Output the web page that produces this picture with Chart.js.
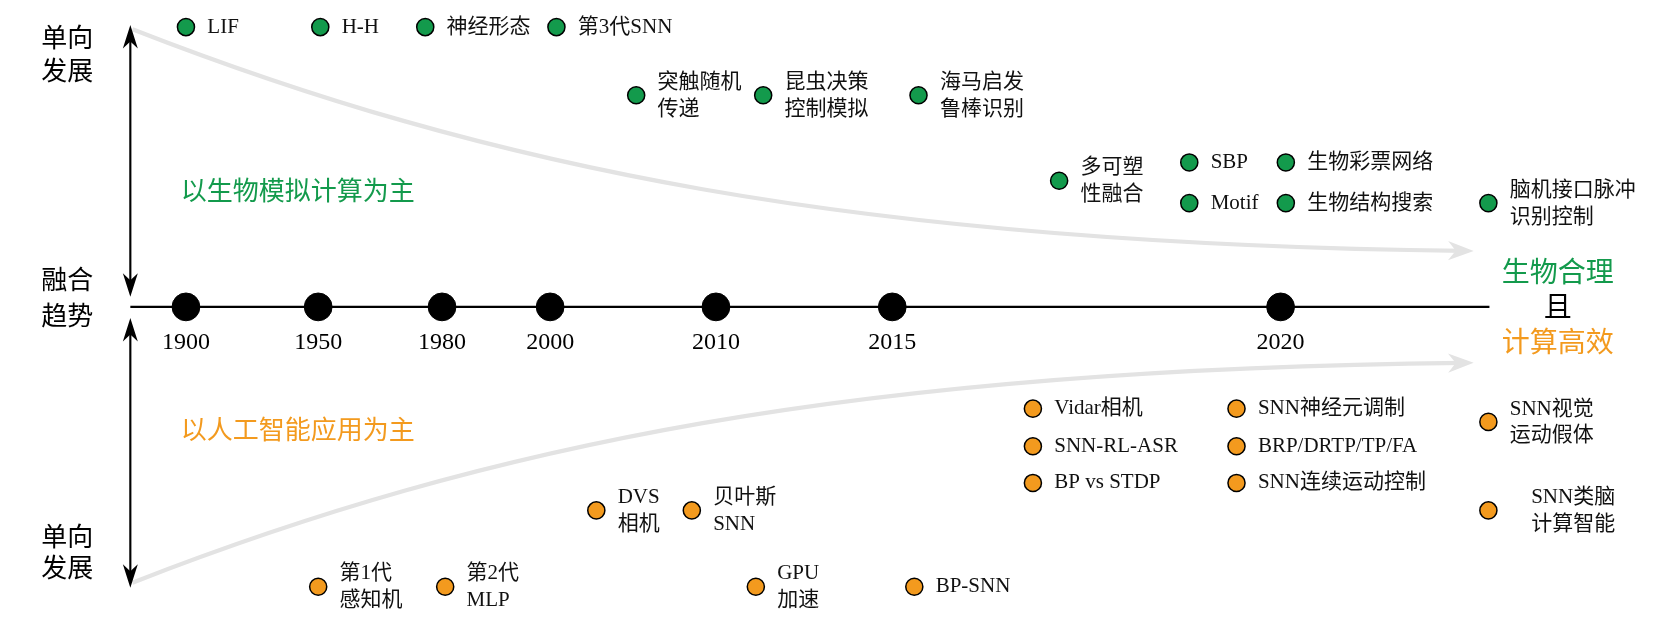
<!DOCTYPE html>
<html>
<head>
<meta charset="utf-8">
<script src="https://cdn.jsdelivr.net/npm/chart.js@4"></script>
<style>
  body { margin: 0; background: #fff; }
  #wrap { width: 1667px; height: 625px; }
</style>
</head>
<body>
<div id="wrap"><canvas id="tl"></canvas></div>
<script>
// years on the timeline and their positions along the axis
const years = ['1900', '1950', '1980', '2000', '2010', '2015', '2020'];
const yearPos = [163, 289, 407, 510, 668, 836, 1206];
const axisY = 287;

// bio-inspired (green) milestones
const bioNames = ['LIF', 'H-H', '神经形态', '第3代SNN', '突触随机\n传递', '昆虫决策\n控制模拟', '海马启发\n鲁棒识别',
  '多可塑\n性融合', 'SBP', '生物彩票网络', 'Motif', '生物结构搜索', '脑机接口脉冲\n识别控制'];
const bioX = [163, 291, 391, 516, 592, 713, 861, 995, 1119, 1211, 1119, 1211, 1404];
const bioY = [12, 12, 12, 12, 79, 79, 79, 163, 145, 145, 185, 185, 185];

// AI application (orange) milestones
const aiNames = ['Vidar相机', 'SNN神经元调制', 'SNN视觉\n运动假体', 'SNN-RL-ASR', 'BRP/DRTP/TP/FA', 'BP vs STDP',
  'SNN连续运动控制', 'SNN类脑\n计算智能', 'DVS\n相机', '贝叶斯\nSNN', '第1代\n感知机', '第2代\nMLP', 'GPU\n加速', 'BP-SNN'];
const aiX = [970, 1164, 1404, 970, 1164, 970, 1164, 1404, 554, 645, 289, 410, 706, 857];
const aiY = [387, 387, 400, 424, 424, 460, 460, 487, 487, 487, 562, 562, 562, 562];

const GREEN = '#139a4c', ORANGE = '#f39a1e';
const FONT = '"Liberation Serif", "Noto Sans CJK SC", serif';
const S = 1667 / 1560;
const px = n => Math.round(n * S) + 'px ';

const pts = (xs, ys) => xs.map((x, i) => ({ x: x, y: ys[i] }));

function arrowHead(ctx, x, y, ang, len, w, color) {
  ctx.save();
  ctx.translate(x, y); ctx.rotate(ang); ctx.scale(S, S);
  ctx.fillStyle = color;
  ctx.beginPath();
  ctx.moveTo(0, 0); ctx.lineTo(-len, -w); ctx.lineTo(-len * 0.7, 0); ctx.lineTo(-len, w);
  ctx.closePath(); ctx.fill();
  ctx.restore();
}

const decor = {
  id: 'decor',
  beforeDatasetsDraw(chart) {
    const ctx = chart.ctx, sx = chart.scales.x, sy = chart.scales.y;
    const X = v => sx.getPixelForValue(v), Y = v => sy.getPixelForValue(v);
    ctx.save();
    // gray convergence curves
    ctx.strokeStyle = '#e3e3e3'; ctx.lineWidth = 4 * S;
    ctx.beginPath(); ctx.moveTo(X(112), Y(14));
    ctx.bezierCurveTo(X(450), Y(150), X(800), Y(225), X(1380), Y(232)); ctx.stroke();
    arrowHead(ctx, X(1390), Y(232), 0.01, 24, 9, '#e3e3e3');
    ctx.beginPath(); ctx.moveTo(X(112), Y(558));
    ctx.bezierCurveTo(X(450), Y(422), X(800), Y(348), X(1380), Y(342)); ctx.stroke();
    arrowHead(ctx, X(1390), Y(342), -0.01, 24, 9, '#e3e3e3');
    // main timeline
    ctx.strokeStyle = '#000'; ctx.lineWidth = 2 * S;
    ctx.beginPath(); ctx.moveTo(X(110), Y(axisY)); ctx.lineTo(X(1405), Y(axisY)); ctx.stroke();
    // vertical double arrows
    ctx.beginPath(); ctx.moveTo(X(110), Y(20)); ctx.lineTo(X(110), Y(268));
    ctx.moveTo(X(110), Y(307)); ctx.lineTo(X(110), Y(553)); ctx.stroke();
    arrowHead(ctx, X(110), Y(10), -Math.PI / 2, 22, 7, '#000');
    arrowHead(ctx, X(110), Y(277), Math.PI / 2, 22, 7, '#000');
    arrowHead(ctx, X(110), Y(298), -Math.PI / 2, 22, 7, '#000');
    arrowHead(ctx, X(110), Y(563), Math.PI / 2, 22, 7, '#000');
    // texts
    ctx.textBaseline = 'middle'; ctx.textAlign = 'left';
    ctx.font = px(24) + FONT; ctx.fillStyle = '#000';
    [['单向', 25], ['发展', 57], ['融合', 263], ['趋势', 298], ['单向', 515], ['发展', 546]]
      .forEach(t => ctx.fillText(t[0], X(25), Y(t[1])));
    ctx.fillStyle = GREEN; ctx.fillText('以生物模拟计算为主', X(158), Y(175));
    ctx.fillStyle = ORANGE; ctx.fillText('以人工智能应用为主', X(158), Y(410));
    ctx.font = px(26) + FONT; ctx.textAlign = 'center';
    ctx.fillStyle = GREEN; ctx.fillText('生物合理', X(1470), Y(255));
    ctx.fillStyle = '#000'; ctx.fillText('且', X(1470), Y(290));
    ctx.fillStyle = ORANGE; ctx.fillText('计算高效', X(1470), Y(324));
    ctx.font = px(22) + FONT; ctx.fillStyle = '#000';
    years.forEach((y, i) => ctx.fillText(y, X(yearPos[i]), Y(322)));
    ctx.restore();
  },
  afterDatasetsDraw(chart) {
    const ctx = chart.ctx;
    ctx.save();
    ctx.font = px(19.5) + FONT; ctx.fillStyle = '#111';
    ctx.textBaseline = 'middle'; ctx.textAlign = 'left';
    [[bioNames, 1], [aiNames, 2]].forEach(([names, di]) => {
      chart.getDatasetMeta(di).data.forEach((el, i) => {
        const lines = names[i].split('\n');
        const dx = (names[i] === 'SNN类脑\n计算智能' ? 40 : 20) * S;
        lines.forEach((ln, k) => {
          const off = (lines.length === 1 ? 0 : (k === 0 ? -12 : 13)) * S;
          ctx.fillText(ln, el.x + dx, el.y + off);
        });
      });
    });
    ctx.restore();
  }
};

new Chart(document.getElementById('tl'), {
  type: 'scatter',
  data: {
    datasets: [
      { data: yearPos.map(x => ({ x: x, y: axisY })), pointRadius: 13 * S, backgroundColor: '#000', borderColor: '#000' },
      { data: pts(bioX, bioY), pointRadius: 8 * S, backgroundColor: GREEN, borderColor: '#000', borderWidth: 1.5 },
      { data: pts(aiX, aiY), pointRadius: 8 * S, backgroundColor: ORANGE, borderColor: '#000', borderWidth: 1.5 }
    ]
  },
  options: {
    responsive: true, maintainAspectRatio: false, animation: false,
    layout: { padding: 0 },
    plugins: { legend: { display: false }, tooltip: { enabled: false } },
    scales: {
      x: { type: 'linear', min: 0, max: 1560, display: false },
      y: { type: 'linear', min: 0, max: 585, reverse: true, display: false }
    }
  },
  plugins: [decor]
});
</script>
</body>
</html>
